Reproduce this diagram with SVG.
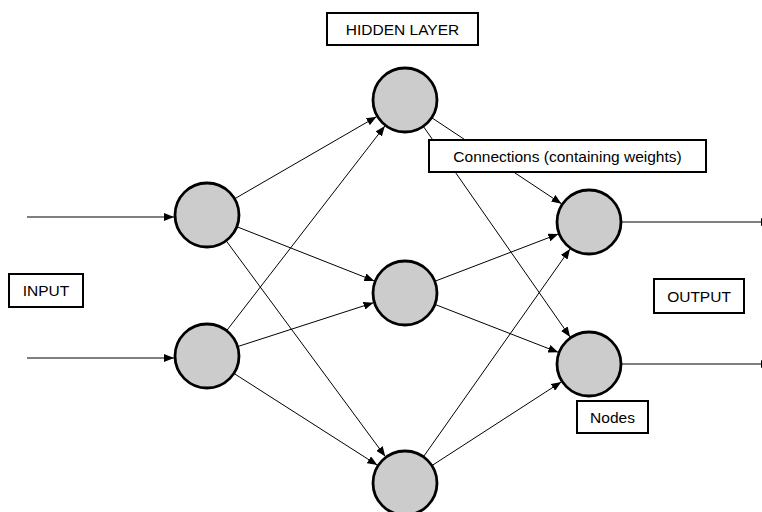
<svg xmlns="http://www.w3.org/2000/svg" width="762" height="512" viewBox="0 0 762 512">
<style>
.node{fill:#cccccc;stroke:#000;stroke-width:2.8}
.lbl rect{fill:#fff;stroke:#000;stroke-width:2}
.lbl text{font-family:"Liberation Sans",Arial,sans-serif;font-size:15.5px;fill:#000;text-anchor:middle}
#connectors line{stroke:#000;stroke-width:1;marker-end:url(#arr)}
</style>
<defs>
<marker id="arr" viewBox="0 0 10 8" refX="10" refY="4" markerWidth="10" markerHeight="8" markerUnits="userSpaceOnUse" orient="auto">
<path d="M0,0 L10,4 L0,8 Z" fill="#000"/>
</marker>
</defs>
<g id="connectors">
<line x1="27" y1="217" x2="174" y2="217"/>
<line x1="27" y1="358" x2="174" y2="358"/>
<line x1="234.6" y1="198.8" x2="376.5" y2="116.7"/>
<line x1="236.8" y1="226.7" x2="374.3" y2="280.9"/>
<line x1="226.1" y1="240.7" x2="385.3" y2="456.5"/>
<line x1="226.6" y1="330.7" x2="384.8" y2="126.1"/>
<line x1="237.6" y1="346.6" x2="373.5" y2="302.7"/>
<line x1="233.9" y1="373.4" x2="377.3" y2="465.1"/>
<line x1="431.7" y1="117.7" x2="561.5" y2="203.8"/>
<line x1="423.3" y1="126.3" x2="570.1" y2="336.9"/>
<line x1="434.8" y1="281.3" x2="558.3" y2="234.0"/>
<line x1="434.9" y1="304.4" x2="558.2" y2="352.3"/>
<line x1="423.4" y1="456.8" x2="570.0" y2="249.0"/>
<line x1="431.9" y1="465.6" x2="561.3" y2="381.9"/>
<line x1="621" y1="222" x2="771" y2="222"/>
<line x1="621" y1="364" x2="771" y2="364"/>
</g>
<g id="in1"><circle class="node" cx="207" cy="215" r="32"/></g>
<g id="in2"><circle class="node" cx="207" cy="356" r="32"/></g>
<g id="h1"><circle class="node" cx="405" cy="100" r="32"/></g>
<g id="h2"><circle class="node" cx="405" cy="293" r="32"/></g>
<g id="h3"><circle class="node" cx="405" cy="483" r="32"/></g>
<g id="o1"><circle class="node" cx="589" cy="222" r="32"/></g>
<g id="o2"><circle class="node" cx="589" cy="364" r="32"/></g>
<g id="lbl-hidden" class="lbl"><rect x="327" y="13" width="151" height="32"/><text x="402.5" y="35">HIDDEN LAYER</text></g>
<g id="lbl-conn" class="lbl"><rect x="429" y="140" width="277" height="32"/><text x="567.5" y="162">Connections (containing weights)</text></g>
<g id="lbl-input" class="lbl"><rect x="9" y="274" width="74" height="33"/><text x="46" y="296">INPUT</text></g>
<g id="lbl-output" class="lbl"><rect x="654" y="279" width="90" height="34"/><text x="699" y="302">OUTPUT</text></g>
<g id="lbl-nodes" class="lbl"><rect x="577" y="401" width="71" height="32"/><text x="612.5" y="423">Nodes</text></g>
</svg>
